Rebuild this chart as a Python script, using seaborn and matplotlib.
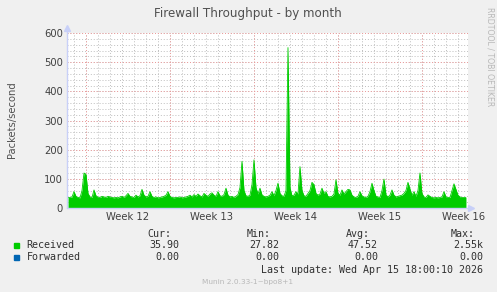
import numpy as np
import pandas as pd
import matplotlib
matplotlib.use("Agg")
import matplotlib.pyplot as plt
import seaborn as sns

# ---------------- data ----------------
# Received packets/second, 4-hour averages, month view (200 samples)
received = [
    36, 36, 38, 56, 40, 36, 35, 60, 120, 115, 50, 38, 36, 62, 42, 37, 36, 40, 38, 36,
    40, 38, 36, 35, 36, 35, 38, 40, 36, 42, 50, 40, 38, 36, 44, 38, 42, 64, 44, 38,
    40, 56, 40, 36, 38, 35, 36, 38, 40, 44, 56, 40, 36, 35, 36, 36, 38, 35, 36, 38,
    40, 44, 38, 46, 40, 48, 42, 38, 50, 44, 40, 48, 52, 44, 40, 56, 42, 40, 46, 68,
    44, 38, 40, 36, 40, 46, 70, 160, 60, 42, 40, 44, 80, 165, 70, 48, 68, 45, 40, 38,
    40, 44, 56, 42, 60, 85, 50, 42, 40, 60, 550, 70, 42, 44, 56, 48, 142, 60, 42, 40,
    50, 60, 88, 80, 50, 44, 48, 68, 50, 56, 40, 38, 40, 48, 97, 50, 44, 62, 48, 56,
    64, 62, 44, 38, 36, 40, 56, 42, 38, 36, 40, 56, 85, 60, 40, 38, 36, 60, 99, 45,
    38, 44, 62, 44, 38, 40, 42, 44, 50, 60, 88, 65, 44, 56, 40, 60, 120, 50, 38, 36,
    45, 40, 36, 35, 36, 35, 36, 38, 56, 38, 36, 36, 60, 83, 64, 44, 38, 36, 36, 36,
]
sample_days = 1.0 / 6.0          # 4-hour samples
first_week_start = 1.58          # day offset of the first week boundary
week_labels = ["Week 12", "Week 13", "Week 14", "Week 15", "Week 16"]
x_span_days = 33.42
y_max = 600

series_names = ["Received", "Forwarded"]
series_colors = ["#00CC00", "#0066B3"]
stat_headers = ["Cur:", "Min:", "Avg:", "Max:"]
stat_received = ["35.90", "27.82", "47.52", "2.55k"]
stat_forwarded = ["0.00", "0.00", "0.00", "0.00"]
last_update = "Last update: Wed Apr 15 18:00:10 2026"
munin_version = "Munin 2.0.33-1~bpo8+1"

# ---------------- figure ----------------
sns.set_style("white")
plt.rcParams["font.family"] = ["DejaVu Sans"]

W, H = 497, 292
fig = plt.figure(figsize=(W / 100, H / 100), dpi=100, facecolor="#F0F0F0")
ax = fig.add_axes([67 / W, (H - 208) / H, (468 - 67) / W, 175 / H])
ax.set_facecolor("white")

df = pd.DataFrame({"day": (np.arange(len(received)) + 0.5) * sample_days,
                   "value": received})
ax.fill_between(df["day"], 0, df["value"], color=series_colors[0],
                linewidth=0, zorder=3)
sns.lineplot(data=df, x="day", y="value", color=series_colors[0],
             linewidth=0.6, ax=ax, zorder=3)

ax.set_xlim(0, x_span_days)
ax.set_ylim(0, y_max)

# grid
minor_kw = dict(color="#BEBEBE", linestyle=(0, (1, 2)), linewidth=0.7, zorder=1)
major_kw = dict(color="#EE9A9A", linestyle=(0, (1, 2)), linewidth=0.7, zorder=2)
d = first_week_start - np.floor(first_week_start)
while d < x_span_days:
    ax.axvline(d, **minor_kw)
    d += 1
for yv in range(20, y_max + 1, 20):
    ax.axhline(yv, **minor_kw)
week_starts = [first_week_start + 7 * k for k in range(len(week_labels))]
for ws in week_starts:
    ax.axvline(ws, **major_kw)
for yv in range(100, y_max + 1, 100):
    ax.axhline(yv, **major_kw)

# ticks
ax.set_xticks([ws + 3.5 for ws in week_starts])
ax.set_xticklabels(week_labels)
ax.set_yticks(range(0, y_max + 1, 100))
ax.tick_params(axis="both", length=0, labelsize=7.2, colors="#404040", pad=3)
for s in ax.spines.values():
    s.set_visible(False)
ax.set_xlabel("")
ax.set_ylabel("")

# axis lines with arrows
axis_col = "#C8D0F8"
ax.plot([0, 0], [0, 1.02], transform=ax.transAxes, color=axis_col,
        linewidth=1, clip_on=False, zorder=5)
ax.plot([0, 1.005], [0, 0], transform=ax.transAxes, color=axis_col,
        linewidth=1, clip_on=False, zorder=5)
ax.plot([0], [1.03], marker="^", markersize=4, color=axis_col,
        transform=ax.transAxes, clip_on=False, zorder=5)
ax.plot([1.008], [0], marker=">", markersize=4, color=axis_col,
        transform=ax.transAxes, clip_on=False, zorder=5)

# texts
fig.text(248 / W, 1 - 14 / H, "Firewall Throughput - by month", ha="center",
         va="center", fontsize=8.6, color="#505050")
fig.text(12 / W, 1 - 120 / H, "Packets/second", rotation=90, ha="center",
         va="center", fontsize=7.2, color="#505050")
fig.text(490 / W, 1 - 57 / H, "RRDTOOL / TOBI OETIKER", rotation=270,
         ha="center", va="center", fontsize=5.6, color="#B8B8B8")

mono = dict(family="DejaVu Sans Mono", fontsize=7.2, color="#303030")
col_right = [179, 279, 378, 483]
for xr, hdr in zip(col_right, stat_headers):
    fig.text((xr - 8) / W, 1 - 234 / H, hdr, ha="right", va="center", **mono)
rows_y = [245.5, 257]
for yy, name, col, stats in zip(rows_y, series_names, series_colors,
                                [stat_received, stat_forwarded]):
    fig.patches.append(plt.Rectangle((14 / W, 1 - (yy + 2.5) / H), 5 / W, 5 / H,
                                     transform=fig.transFigure, color=col))
    fig.text(26.5 / W, 1 - yy / H, name, ha="left", va="center", **mono)
    for xr, v in zip(col_right, stats):
        fig.text(xr / W, 1 - yy / H, v, ha="right", va="center", **mono)
fig.text(483 / W, 1 - 270 / H, last_update, ha="right", va="center", **mono)
fig.text(248 / W, 1 - 282 / H, munin_version, ha="center", va="center",
         fontsize=5.3, color="#B8B8B8")

fig.savefig("out.png", dpi=100, facecolor=fig.get_facecolor())
